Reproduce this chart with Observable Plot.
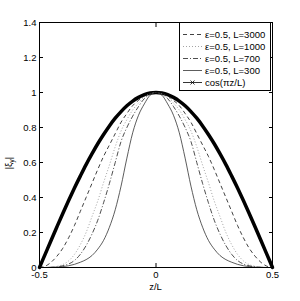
<!DOCTYPE html>
<html><head><meta charset="utf-8">
<script src="https://cdn.jsdelivr.net/npm/d3@7"></script>
<script src="https://cdn.jsdelivr.net/npm/@observablehq/plot@0.6"></script>
<style>body{margin:0;background:#fff;overflow:hidden}</style>
</head><body><div id="chart"></div>
<script>
const zValues = [-0.5,-0.475,-0.45,-0.425,-0.4,-0.375,-0.35,-0.325,-0.3,-0.275,-0.25,-0.225,-0.2,-0.175,-0.15,-0.125,-0.1,-0.075,-0.05,-0.025,0,
  0.025,0.05,0.075,0.1,0.125,0.15,0.175,0.2,0.225,0.25,0.275,0.3,0.325,0.35,0.375,0.4,0.425,0.45,0.475,0.5];
const cosVals = [0,0.078,0.156,0.233,0.309,0.383,0.454,0.522,0.588,0.649,0.707,0.760,0.809,0.853,0.891,0.924,0.951,0.972,0.988,0.997,1,
  0.997,0.988,0.972,0.951,0.924,0.891,0.853,0.809,0.760,0.707,0.649,0.588,0.522,0.454,0.383,0.309,0.233,0.156,0.078,0];
const eps3000 = [0,0.008,0.03,0.065,0.11,0.17,0.24,0.32,0.40,0.48,0.56,0.635,0.70,0.765,0.83,0.88,0.925,0.955,0.98,0.995,1,
  0.995,0.98,0.955,0.925,0.88,0.83,0.765,0.70,0.635,0.56,0.48,0.40,0.32,0.24,0.17,0.11,0.065,0.03,0.008,0];
const eps1000 = [0,0.001,0.003,0.007,0.017,0.038,0.075,0.13,0.2,0.29,0.38,0.485,0.585,0.69,0.78,0.845,0.9,0.94,0.975,0.993,1,
  0.993,0.975,0.94,0.9,0.845,0.78,0.69,0.585,0.485,0.38,0.29,0.2,0.13,0.075,0.038,0.017,0.007,0.003,0.001,0];
const eps700 = [0,0,0.001,0.004,0.01,0.02,0.04,0.075,0.125,0.19,0.27,0.37,0.48,0.6,0.72,0.8,0.865,0.92,0.965,0.99,1,
  0.99,0.965,0.92,0.865,0.8,0.72,0.6,0.48,0.37,0.27,0.19,0.125,0.075,0.04,0.02,0.01,0.004,0.001,0,0];
const eps300 = [0,0,0.001,0.002,0.005,0.01,0.018,0.03,0.045,0.068,0.105,0.155,0.23,0.33,0.465,0.625,0.77,0.87,0.935,0.985,1,
  0.985,0.935,0.87,0.77,0.625,0.465,0.33,0.23,0.155,0.105,0.068,0.045,0.03,0.018,0.01,0.005,0.002,0.001,0,0];
const seriesNames = ["ε=0.5, L=3000","ε=0.5, L=1000","ε=0.5, L=700","ε=0.5, L=300","cos(πz/L)"];
const xTicks = [-0.5,0,0.5];
const yTicks = [0,0.2,0.4,0.6,0.8,1,1.2,1.4];

const styles = [
  {dash:"4,3", color:"#111", width:0.8},
  {dash:"1,2", color:"#999", width:0.9},
  {dash:"5,2,1,2", color:"#222", width:0.8},
  {dash:null, color:"#333", width:0.8},
  {dash:null, color:"#000", width:3.5}
];
const allVals = [eps3000, eps1000, eps700, eps300, cosVals];
const rows = [];
allVals.forEach((vals, s) => zValues.forEach((z, i) => rows.push({z, v: vals[i], s})));

const lineMarks = [4,3,2,1,0].map(s => Plot.line(rows.filter(d => d.s === s), {
  x: "z", y: "v", curve: "monotone-x",
  stroke: styles[s].color, strokeWidth: styles[s].width,
  strokeDasharray: styles[s].dash, strokeLinecap: s===4 ? "round" : "butt"
}));

const FONT = "Liberation Sans, Arial, sans-serif";
const plot = Plot.plot({
  width: 300, height: 301,
  marginLeft: 39, marginRight: 28, marginTop: 22, marginBottom: 34,
  style: {fontFamily: FONT, fontSize: "9.5px", background: "white", color: "black"},
  x: {domain: [-0.5, 0.5]},
  y: {domain: [0, 1.4]},
  marks: [
    ...lineMarks,
    Plot.frame({stroke: "black", strokeWidth: 1}),
    Plot.axisX(xTicks, {anchor: "bottom", tickSize: 0, tickPadding: 4, tickFormat: d => String(d), label: null}),
    Plot.axisX(xTicks, {anchor: "bottom", tickSize: 4, dy: -4, tickFormat: () => "", label: null}),
    Plot.axisX(xTicks, {anchor: "top", tickSize: 4, dy: 4, tickFormat: () => "", label: null}),
    Plot.axisY(yTicks, {anchor: "left", tickSize: 0, tickPadding: 3, tickFormat: d => String(d), label: null}),
    Plot.axisY(yTicks, {anchor: "left", tickSize: 4, dx: 4, tickFormat: () => "", label: null}),
    Plot.axisY(yTicks, {anchor: "right", tickSize: 4, dx: -4, tickFormat: () => "", label: null})
  ]
});
document.getElementById("chart").appendChild(plot);

const svg = d3.select(plot);
svg.append("text").attr("x", 155.5).attr("y", 290).attr("text-anchor", "middle")
  .attr("font-size", 9.5).attr("font-family", FONT).text("z/L");
const yl = svg.append("text").attr("transform", "translate(12,163) rotate(-90)").attr("text-anchor", "middle")
  .attr("font-size", 9.5).attr("font-family", FONT);
yl.append("tspan").text("|ξ");
yl.append("tspan").attr("font-size", 7).attr("dy", 2).text("y");
yl.append("tspan").attr("dy", -2).text("|");

// legend
const lg = svg.append("g").attr("font-family", FONT).attr("font-size", 9.5).attr("text-anchor", "start");
lg.append("rect").attr("x", 179.5).attr("y", 22.5).attr("width", 91).attr("height", 68)
  .attr("fill", "white").attr("stroke", "black").attr("stroke-width", 1);
seriesNames.forEach((name, i) => {
  const y = 34.5 + i * 12;
  const st = styles[i];
  lg.append("line").attr("x1", 183).attr("x2", 202).attr("y1", y).attr("y2", y)
    .attr("stroke", st.color).attr("stroke-width", i === 4 ? 0.8 : st.width)
    .attr("stroke-dasharray", st.dash);
  if (i === 4) {
    lg.append("path").attr("d", `M${190.5},${y-2}L${194.5},${y+2}M${190.5},${y+2}L${194.5},${y-2}`)
      .attr("stroke", "black").attr("stroke-width", 0.8);
  }
  lg.append("text").attr("x", 205).attr("y", y).attr("dy", "0.35em").text(name);
});
</script>
</body></html>
